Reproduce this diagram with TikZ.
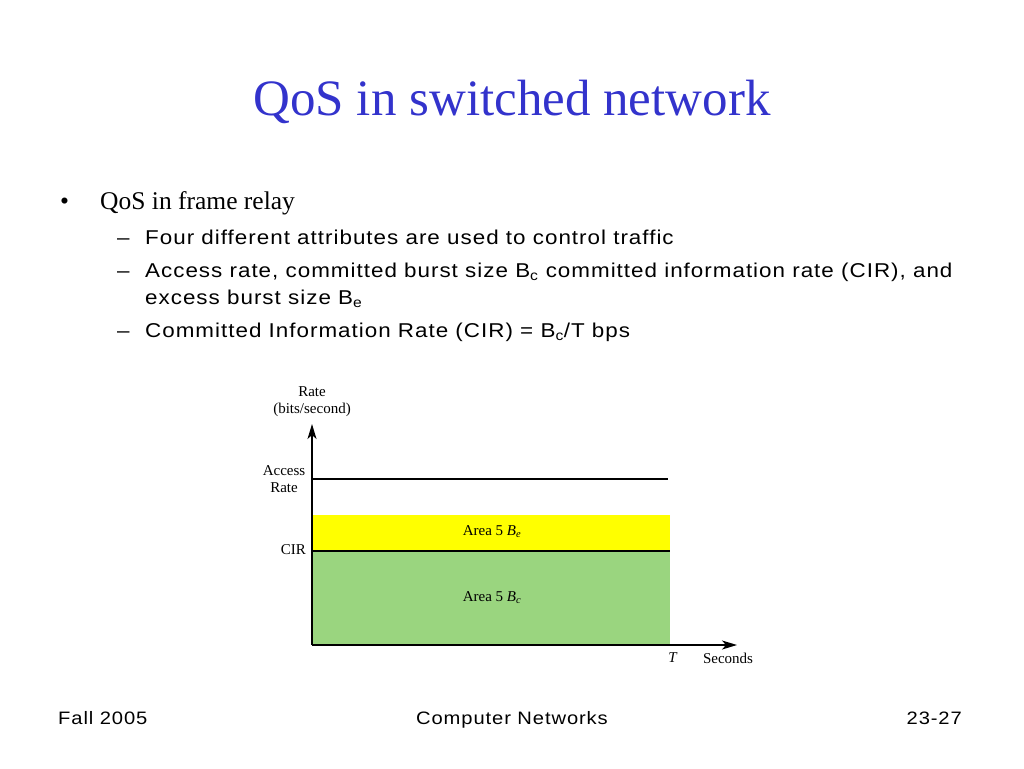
\documentclass[tikz,border=0pt]{standalone}
\usepackage{fontspec}
\setmainfont{Liberation Serif}
\newfontfamily\gul[FakeStretch=1.12,LetterSpace=5]{Liberation Sans}
\usetikzlibrary{arrows.meta}
\definecolor{titleblue}{HTML}{3333CC}
\definecolor{areagreen}{HTML}{9AD57F}
\definecolor{areayellow}{HTML}{FFFF00}
\begin{document}
\begin{tikzpicture}[x=1pt,y=-1pt,
  txt/.style={inner sep=0pt,anchor=base west},
  sub/.style={txt,font=\gul\fontsize{20}{24}\selectfont},
  footer/.style={inner sep=0pt,font=\gul\fontsize{18}{21}\selectfont},
  lbl/.style={inner sep=0pt,font=\fontsize{15}{17}\selectfont},
  axis/.style={line width=1.2pt,-{Stealth[length=15pt,width=9pt,inset=4pt]}},
  hline/.style={line width=1.2pt}]
\useasboundingbox (0,0) rectangle (1024,768);
\node[inner sep=0pt,anchor=base,text=titleblue,font=\fontsize{51}{58}\selectfont] (title) at (512,115) {QoS in switched network};
\node[txt,font=\fontsize{25.5}{30}\selectfont] (b1) at (60,209) {\textbullet};
\node[txt,font=\fontsize{25.5}{30}\selectfont] (t1) at (100,209) {QoS in frame relay};
\node[sub] (d1) at (117,244) {\textendash};
\node[sub] (s1) at (145,244) {Four different attributes are used to control traffic};
\node[sub] (d2) at (117,277) {\textendash};
\node[sub] (s2) at (145,277) {Access rate, committed burst size B\textsubscript{c} committed information rate (CIR), and};
\node[sub] (s2b) at (145,304) {excess burst size B\textsubscript{e}};
\node[sub] (d3) at (117,337) {\textendash};
\node[sub] (s3) at (145,337) {Committed Information Rate (CIR) = B\textsubscript{c}/T bps};
% diagram
\fill[areayellow] (312,515) rectangle (670,551);
\fill[areagreen] (312,551) rectangle (670,645);
\coordinate (o) at (312,645);
\coordinate (ytip) at (312,424);
\coordinate (xtip) at (737,645);
\coordinate (ar1) at (312,479);
\coordinate (ar2) at (668,479);
\coordinate (c1) at (312,551);
\coordinate (c2) at (670,551);
\draw[hline] (ar1) -- (ar2);
\draw[hline] (c1) -- (c2);
\draw[axis] (o) -- (ytip);
\draw[axis] (o) -- (xtip);
\node[lbl,align=center] (rate) at (312,402) {Rate\\(bits/second)};
\node[lbl,align=center] (acc) at (284,479) {Access\\Rate};
\node[lbl,anchor=east] (cir) at (306,550) {CIR};
\node[lbl] (be) at (492,532) {Area 5 \textit{B\textsubscript{e}}};
\node[lbl] (bc) at (492,598) {Area 5 \textit{B\textsubscript{c}}};
\node[lbl] (T) at (673,658) {\textit{T}};
\node[lbl] (sec) at (728,658) {Seconds};
% footer
\node[footer,anchor=base west] (f1) at (58,724) {Fall 2005};
\node[footer,anchor=base] (f2) at (512,724) {Computer Networks};
\node[footer,anchor=base east] (f3) at (962,724) {23-27};
\end{tikzpicture}
\end{document}
